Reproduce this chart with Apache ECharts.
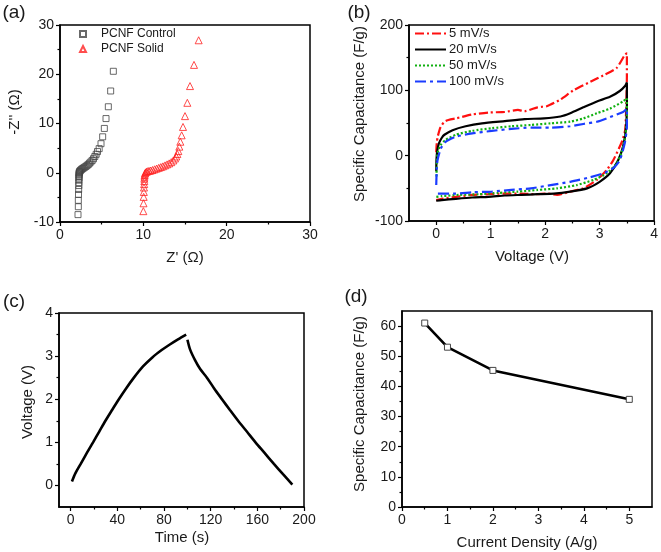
<!DOCTYPE html>
<html>
<head>
<meta charset="utf-8">
<script src="https://cdn.jsdelivr.net/npm/echarts@6/dist/echarts.min.js"></script>
<style>
html,body{margin:0;padding:0;background:#fff;}
#c{width:661px;height:552px;}
</style>
</head>
<body>
<div id="c"></div>
<script>
// ---------- Panel (a): Nyquist ----------
const ctrlX = [2.16,2.2,2.2,2.22,2.24,2.26,2.26,2.27,2.28,2.28,2.28,2.29,2.3,2.32,2.36,2.42,2.5,2.6,2.72,2.85,2.98,3.12,3.26,3.4,3.55,3.7,3.86,4.02,4.18,4.34,4.5,4.7,4.92,5.12,5.32,5.52,5.8,6.08,6.4];
const ctrlY = [-8.5,-6.9,-5.6,-4.4,-3.4,-2.6,-2.0,-1.5,-1.1,-0.8,-0.5,-0.25,-0.05,0.1,0.25,0.4,0.55,0.7,0.85,1.0,1.15,1.3,1.5,1.7,1.95,2.2,2.5,2.85,3.3,3.75,4.3,4.9,5.9,7.3,9.0,11.0,13.4,16.6,20.6];
const solidX = [10.0,10.02,10.04,10.06,10.08,10.1,10.12,10.12,10.14,10.16,10.2,10.26,10.36,10.5,10.68,10.88,11.1,11.35,11.6,11.85,12.1,12.35,12.6,12.85,13.1,13.35,13.6,13.8,13.95,14.08,14.2,14.32,14.44,14.6,14.76,15.0,15.28,15.6,16.08,16.64];
const solidY = [-7.8,-6.2,-4.9,-3.9,-3.0,-2.3,-1.7,-1.2,-0.8,-0.45,-0.15,0.05,0.2,0.3,0.38,0.45,0.55,0.7,0.85,1.0,1.15,1.3,1.5,1.7,1.9,2.15,2.5,2.9,3.3,3.8,4.4,5.3,6.3,7.6,9.3,11.5,14.2,17.6,21.9,26.9];
const aXTicks = [0,10,20,30];
const aXMinor = [5,15,25];
const aYTicks = [-10,0,10,20,30];
const aYMinor = [-5,5,15,25];

// ---------- Panel (b): CV ----------
const cv5V = [0,0.01,0.03,0.08,0.17,0.36,0.66,0.96,1.26,1.5,1.62,1.86,2.04,2.28,2.52,2.83,3.07,3.31,3.46,3.5,3.5,3.49,3.47,3.42,3.37,3.25,3.13,2.95,2.7,2.46,2.22,2.04,1.8,1.56,1.26,0.96,0.66,0.36,0.1,0];
const cv5C = [5,20,30,44,53,57,63,66,67,70,68,74,76,86,100,113,123,134,154,157,120,80,40,24,14,-7,-22,-37,-50,-55,-60,-58,-59,-58,-58,-59,-60,-63,-66,-68];
const cv20V = [0,0.005,0.02,0.05,0.1,0.15,0.3,0.54,0.84,1.26,1.62,1.98,2.28,2.46,2.7,2.95,3.19,3.37,3.47,3.5,3.5,3.48,3.43,3.34,3.19,3.0,2.77,2.46,2.16,1.86,1.56,1.26,0.96,0.66,0.36,0.1,0];
const cv20C = [-24,-5,8,19,27,32,39,45,49.5,53,56,57,60,65,74,83,90,99,107,112,75,39,14,-7,-27,-40,-50,-55,-58,-59,-60,-61,-63,-64,-66,-68,-69];
const cv50V = [0.005,0.01,0.024,0.08,0.17,0.36,0.66,1.02,1.38,1.74,2.1,2.46,2.7,2.95,3.19,3.43,3.5,3.5,3.46,3.4,3.31,3.13,2.89,2.58,2.22,1.86,1.5,1.14,0.78,0.42,0.1,0];
const cv50C = [-32,-10,4,16,24,32,38,42,45,47,49.5,52,57,65,72,83,88,55,24,4,-12,-27,-37,-45,-50,-52.5,-55,-57,-59,-60,-62,-63];
const cv100V = [0,0.01,0.024,0.084,0.17,0.36,0.66,1.02,1.38,1.74,2.1,2.46,2.7,2.95,3.19,3.43,3.5,3.5,3.46,3.37,3.25,3.07,2.83,2.46,2.1,1.74,1.38,1.02,0.66,0.36,0];
const cv100C = [-45,-20,-7,11,21,29,34,38,41,43,43,45,48.5,52,59,67,72,44,19,-7,-19,-27,-33,-40,-45,-50,-52.5,-55,-56,-58,-58];
const bXTicks = [0,1,2,3,4];
const bXMinor = [0.5,1.5,2.5,3.5];
const bYTicks = [-100,0,100,200];
const bYMinor = [-50,50,150];

// ---------- Panel (c): charge / discharge ----------
const chargeT = [1.1,4,8.6,14,19.2,24.5,29.8,35.5,41.3,47.5,54.2,62,70,78,85,92,99];
const chargeV = [0.09,0.28,0.5,0.76,1.0,1.25,1.5,1.75,2.0,2.25,2.5,2.76,2.97,3.14,3.27,3.39,3.5];
const dischargeT = [100.1,102.4,106.7,111,116.8,123,129.7,136.5,143.5,151,158.4,166,174.2,182,190];
const dischargeV = [3.38,3.15,2.9,2.7,2.5,2.25,2.0,1.75,1.5,1.25,1.0,0.76,0.5,0.26,0.02];
const cXTicks = [0,40,80,120,160,200];
const cXMinor = [20,60,100,140,180];
const cYTicks = [0,1,2,3,4];
const cYMinor = [0.5,1.5,2.5,3.5];

// ---------- Panel (d): rate capability ----------
const currentDensity = [0.5,1,2,5];
const specCap = [61,53,45.3,35.7];
const dXTicks = [0,1,2,3,4,5];
const dXMinor = [0.5,1.5,2.5,3.5,4.5];
const dYTicks = [0,10,20,30,40,50,60];
const dYMinor = [5,15,25,35,45,55];

const FONT = 'Liberation Sans, Arial, Helvetica, sans-serif';
const TXT = '#1a1a1a';

function zip(a,b){ return a.map((v,i)=>[v,b[i]]); }

function axisPair(dim, grid, min, max, majors, minors){
  const pos = dim === 'x' ? 'bottom' : 'left';
  const main = {
    type:'value', gridIndex:grid, min:min, max:max, position:pos,
    axisLine:{show:true, onZero:false, lineStyle:{color:'#000', width:1.5}},
    axisTick:{show:true, inside:false, length:4, customValues:majors, lineStyle:{color:'#000', width:1.2}},
    axisLabel:{show:true, customValues:majors, fontSize:14, color:TXT, fontFamily:FONT, margin:6},
    splitLine:{show:false}
  };
  const minor = {
    type:'value', gridIndex:grid, min:min, max:max, position:pos,
    axisLine:{show:false, onZero:false},
    axisTick:{show:true, inside:false, length:2.5, customValues:minors, lineStyle:{color:'#000', width:1.2}},
    axisLabel:{show:false},
    splitLine:{show:false}
  };
  return [main, minor];
}

const xAxes = [].concat(
  axisPair('x',0,0,30,aXTicks,aXMinor),
  axisPair('x',1,-0.5,4,bXTicks,bXMinor),
  axisPair('x',2,-10,200,cXTicks,cXMinor),
  axisPair('x',3,0,5.5,dXTicks,dXMinor)
);
const yAxes = [].concat(
  axisPair('y',0,-10,30,aYTicks,aYMinor),
  axisPair('y',1,-100,200,bYTicks,bYMinor),
  axisPair('y',2,-0.5,4,cYTicks,cYMinor),
  axisPair('y',3,0,65,dYTicks,dYMinor)
);

const gridStyle = {show:true, borderColor:'#000', borderWidth:1.5, backgroundColor:'transparent', containLabel:false};
const grids = [
  Object.assign({left:60, top:25, width:250, height:197}, gridStyle),
  Object.assign({left:409, top:25, width:247, height:196}, gridStyle),
  Object.assign({left:59, top:313, width:245, height:194}, gridStyle),
  Object.assign({left:402, top:311, width:250, height:196}, gridStyle)
];

function txt(s, x, y, size, rot){
  return {type:'text', x:x, y:y, rotation: rot || 0, silent:true,
    style:{text:s, fontSize:size, fontFamily:FONT, fill:TXT, align:'center', verticalAlign:'middle'}};
}

const option = {
  backgroundColor:'#fff',
  animation:false,
  grid: grids,
  xAxis: xAxes,
  yAxis: yAxes,
  legend: [
    {data:['PCNF Control','PCNF Solid'], left:79, top:28, orient:'vertical', itemWidth:6, itemHeight:6,
     itemGap:3, padding:0, selectedMode:false,
     textStyle:{fontSize:12, color:TXT, fontFamily:FONT, padding:[0,0,0,10]}},
    {data:['5 mV/s','20 mV/s','50 mV/s','100 mV/s'], left:414, top:27, orient:'vertical', itemWidth:31, itemHeight:2,
     itemGap:3, padding:0, selectedMode:false, itemStyle:{opacity:0},
     textStyle:{fontSize:13, color:TXT, fontFamily:FONT, padding:[0,0,0,-2]}}
  ],
  series: [
    {name:'PCNF Control', type:'scatter', xAxisIndex:0, yAxisIndex:0, data:zip(ctrlX,ctrlY),
     symbol:'rect', symbolSize:6, itemStyle:{color:'rgba(0,0,0,0)', borderColor:'#444', borderWidth:1}},
    {name:'PCNF Solid', type:'scatter', xAxisIndex:0, yAxisIndex:0, data:zip(solidX,solidY),
     symbol:'triangle', symbolSize:7, itemStyle:{color:'rgba(0,0,0,0)', borderColor:'#ff2020', borderWidth:1}},

    {name:'5 mV/s', type:'line', xAxisIndex:2, yAxisIndex:2, data:zip(cv5V,cv5C), symbol:'none', smooth:0.2,
     lineStyle:{color:'#ff1010', width:2.2, type:[9,3,2,3]}, itemStyle:{color:'#ff1010'}},
    {name:'20 mV/s', type:'line', xAxisIndex:2, yAxisIndex:2, data:zip(cv20V,cv20C), symbol:'none', smooth:0.2,
     lineStyle:{color:'#000', width:2.2, type:'solid'}, itemStyle:{color:'#000'}},
    {name:'50 mV/s', type:'line', xAxisIndex:2, yAxisIndex:2, data:zip(cv50V,cv50C), symbol:'none', smooth:0.2,
     lineStyle:{color:'#10b010', width:2.2, type:[2,2]}, itemStyle:{color:'#10b010'}},
    {name:'100 mV/s', type:'line', xAxisIndex:2, yAxisIndex:2, data:zip(cv100V,cv100C), symbol:'none', smooth:0.2,
     lineStyle:{color:'#1a3cff', width:2.2, type:[11,4,3,4]}, itemStyle:{color:'#1a3cff'}},

    {name:'charge', type:'line', xAxisIndex:4, yAxisIndex:4, data:zip(chargeT,chargeV), symbol:'none', smooth:0.3,
     lineStyle:{color:'#000', width:2.6}},
    {name:'discharge', type:'line', xAxisIndex:4, yAxisIndex:4, data:zip(dischargeT,dischargeV), symbol:'none', smooth:0.3,
     lineStyle:{color:'#000', width:2.6}},

    {name:'rate', type:'line', xAxisIndex:6, yAxisIndex:6, data:zip(currentDensity,specCap),
     symbol:'rect', symbolSize:6, showSymbol:true,
     lineStyle:{color:'#000', width:2.6}, itemStyle:{color:'#fff', borderColor:'#444', borderWidth:1}}
  ],
  graphic: [
    txt('(a)', 14, 13, 19),
    txt('(b)', 359, 13, 19),
    txt('(c)', 14, 302, 19),
    txt('(d)', 356, 297, 19),
    txt("Z' (Ω)", 185, 258, 15),
    txt("-Z'' (Ω)", 15, 112, 15, Math.PI/2),
    txt('Voltage (V)', 532, 257, 15),
    txt('Specific Capacitance (F/g)', 360, 114, 15, Math.PI/2),
    txt('Time (s)', 182, 538, 15),
    txt('Voltage (V)', 28, 402, 15, Math.PI/2),
    txt('Current Density (A/g)', 527, 543, 15),
    txt('Specific Capacitance (F/g)', 360, 404, 15, Math.PI/2)
  ]
};

const chart = echarts.init(document.getElementById('c'), null, {renderer:'canvas', width:661, height:552});
chart.setOption(option);
</script>
</body>
</html>
